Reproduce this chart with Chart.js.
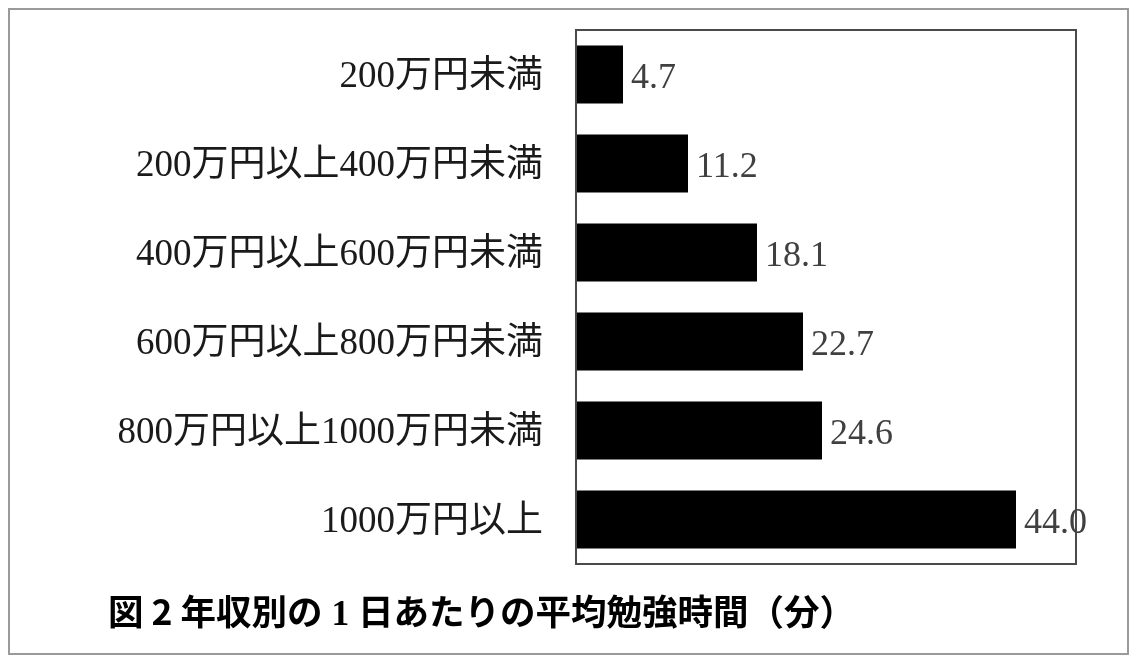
<!DOCTYPE html>
<html>
<head>
<meta charset="utf-8">
<script src="https://cdn.jsdelivr.net/npm/chart.js@4"></script>
<style>
  html, body { margin: 0; padding: 0; background: #fff; }
  #wrap { position: relative; width: 1138px; height: 666px; }
  #frame { position: absolute; left: 8px; top: 8px; width: 1117px; height: 643px; border: 2px solid #9a9a9a; }
  #chart { position: absolute; left: 0; top: 0; }
  #title {
    position: absolute; left: 108px; top: 584px;
    font: bold 35.5px "Noto Sans CJK JP", sans-serif; color: #000; white-space: nowrap;
  }
  #title .num { font-family: "Liberation Serif", serif; }
</style>
</head>
<body>
<div id="wrap">
  <div id="frame"></div>
  <canvas id="chart" width="1138" height="666"></canvas>
  <div id="title">図 2 年収別の<span class="num"> 1 </span>日あたりの平均勉強時間（分）</div>
</div>
<script>
const incomeBands = ['200万円未満', '200万円以上400万円未満', '400万円以上600万円未満', '600万円以上800万円未満', '800万円以上1000万円未満', '1000万円以上']
const studyMinutes = [4.7, 11.2, 18.1, 22.7, 24.6, 44.0]

const labelFont = '"Liberation Serif", "Noto Sans CJK JP", serif'

// box round the plot area
const boxPlugin = {
  id: 'box',
  afterDatasetsDraw(chart) {
    const { ctx, chartArea: a } = chart
    ctx.save()
    ctx.strokeStyle = '#4a4a4a'
    ctx.lineWidth = 2
    ctx.strokeRect(a.left, a.top, a.right - a.left, a.bottom - a.top)
    ctx.restore()
  }
}

// value next to each bar
const valuePlugin = {
  id: 'values',
  afterDraw(chart) {
    const { ctx } = chart
    const meta = chart.getDatasetMeta(0)
    ctx.save()
    ctx.font = '36px ' + labelFont
    ctx.fillStyle = '#404040'
    ctx.textBaseline = 'middle'
    ctx.textAlign = 'left'
    meta.data.forEach((bar, i) => {
      ctx.fillText(studyMinutes[i].toFixed(1), bar.x + 8, bar.y + 4)
    })
    ctx.restore()
  }
}

new Chart(document.getElementById('chart'), {
  type: 'bar',
  data: {
    labels: incomeBands,
    datasets: [{
      data: studyMinutes,
      backgroundColor: '#000',
      borderWidth: 0,
      categoryPercentage: 1,
      barPercentage: 0.65
    }]
  },
  options: {
    indexAxis: 'y',
    responsive: false,
    animation: false,
    layout: { padding: { top: 30, right: 62, bottom: 102, left: 0 } },
    plugins: { legend: { display: false }, tooltip: { enabled: false } },
    scales: {
      x: { display: false, min: 0, max: 50 },
      y: {
        afterFit: scale => {
          scale.width = 576
          scale.paddingTop = 0
          scale.paddingBottom = 0
        },
        grid: { display: false, drawTicks: false },
        border: { display: false },
        ticks: { padding: 33, labelOffset: 3, color: '#1a1a1a', font: { family: labelFont, size: 37 } }
      }
    }
  },
  plugins: [boxPlugin, valuePlugin]
})
</script>
</body>
</html>
